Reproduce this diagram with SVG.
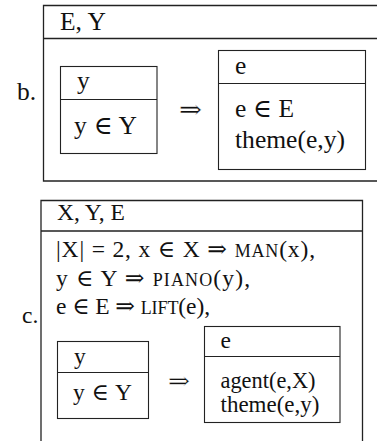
<svg xmlns="http://www.w3.org/2000/svg" width="377" height="441" viewBox="0 0 377 441">
<style>
  .t { font-family: "Liberation Serif", "Times New Roman", "DejaVu Serif", serif; fill: #111; }
  .b { font-size: 25.5px; }
  .c { font-size: 23.5px; }
  .sc { font-size: 18px; }
  .thin { stroke: #fff; stroke-width: 0.3; }
  .ln { stroke: #222; stroke-width: 1.3; fill: none; }
  .bx { stroke: #222; stroke-width: 1.1; fill: none; }
</style>
<rect width="377" height="441" fill="#fff"/>

<g id="fig-b">
  <text class="t b" x="17" y="100">b.</text>
  <g id="b-outer">
    <path class="ln" d="M378,5.5 H43.5 V181 H378 M43.5,38.5 H378"/>
    <text class="t b" x="60" y="29.5">E, Y</text>
  </g>
  <g id="b-y-box">
    <rect class="bx" x="60.5" y="66.5" width="96.5" height="87"/>
    <line class="bx" x1="60.5" y1="99.5" x2="157" y2="99.5"/>
    <text class="t b" x="77" y="89">y</text>
    <text class="t b" x="74" y="133.5" textLength="63" lengthAdjust="spacing">y ∈ Y</text>
  </g>
  <g id="b-e-box">
    <rect class="bx" x="218.5" y="50.5" width="147" height="119"/>
    <line class="bx" x1="218.5" y1="83.5" x2="365.5" y2="83.5"/>
    <text class="t b" x="235" y="74">e</text>
    <text class="t b" x="235" y="117" textLength="59" lengthAdjust="spacing">e ∈ E</text>
    <text class="t b" x="235" y="148" textLength="110" lengthAdjust="spacingAndGlyphs">theme(e,y)</text>
  </g>
</g>

<g id="fig-c">
  <text class="t c" x="22" y="323">c.</text>
  <g id="c-outer">
    <path class="ln" d="M41,442 V200.5 H362.5 V442 M41,231 H362.5"/>
    <text class="t c" x="57" y="220">X, Y, E</text>
    <text class="t c" x="56" y="257" textLength="259" lengthAdjust="spacing">|X| = 2, x ∈ X ⇒ <tspan class="sc">MAN</tspan>(x),</text>
    <text class="t c" x="56" y="285.5" textLength="194" lengthAdjust="spacing">y ∈ Y ⇒ <tspan class="sc">PIANO</tspan>(y),</text>
    <text class="t c" x="56" y="314" textLength="154" lengthAdjust="spacing">e ∈ E ⇒ <tspan class="sc">LIFT</tspan>(e),</text>
  </g>
  <g id="c-y-box">
    <rect class="bx" x="57.5" y="341.5" width="91" height="77"/>
    <line class="bx" x1="57.5" y1="372.5" x2="148.5" y2="372.5"/>
    <text class="t c" x="74" y="364">y</text>
    <text class="t c" x="73" y="400" textLength="59" lengthAdjust="spacing">y ∈ Y</text>
  </g>
  <g id="c-e-box">
    <rect class="bx" x="204.5" y="326.5" width="135.5" height="96"/>
    <line class="bx" x1="204.5" y1="356.5" x2="340" y2="356.5"/>
    <text class="t c" x="220.5" y="348">e</text>
    <text class="t c" x="220.5" y="388" textLength="95" lengthAdjust="spacingAndGlyphs">agent(e,X)</text>
    <text class="t c" x="220.5" y="412" textLength="99" lengthAdjust="spacingAndGlyphs">theme(e,y)</text>
  </g>
</g>

<g id="connectors">
  <text class="t b thin" x="179" y="118" textLength="23" lengthAdjust="spacingAndGlyphs">⇒</text>
  <text class="t c thin" x="168" y="389" textLength="22" lengthAdjust="spacingAndGlyphs">⇒</text>
</g>
</svg>
